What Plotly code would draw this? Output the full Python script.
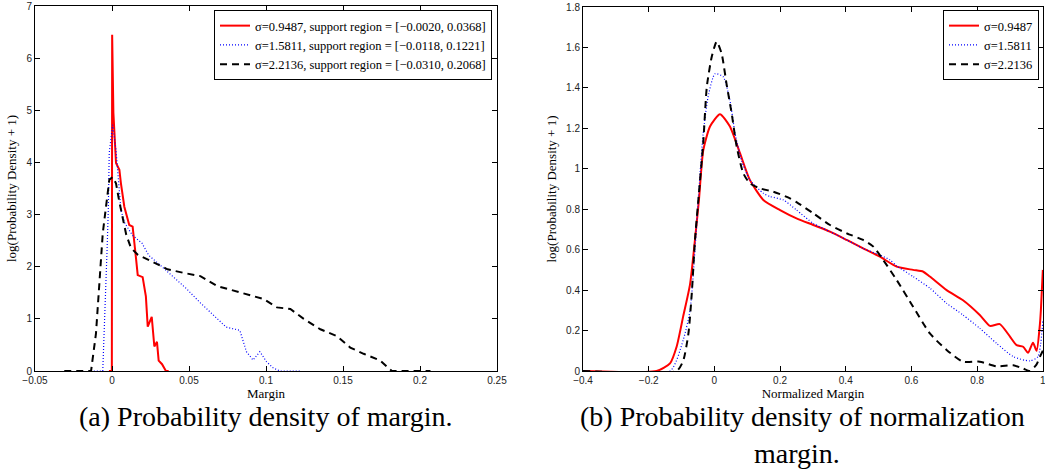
import plotly.graph_objects as go

# ---------------- data: (a) margin ----------------
a_red_x = [-0.002, -0.0001, 0.0001, 0.0009, 0.0026, 0.0048, 0.0058, 0.008, 0.0112, 0.0134, 0.0156,
           0.0167, 0.0199, 0.022, 0.0232, 0.0258, 0.0275, 0.0292, 0.0303, 0.0325, 0.035, 0.0368]
a_red_y = [0, 0, 6.45, 4.95, 3.99, 3.86, 3.6, 3.15, 2.8, 2.77, 2.16,
           1.84, 1.8, 1.43, 0.85, 1.04, 0.47, 0.56, 0.2, 0.13, 0, 0]

a_blue_x = [-0.0118, -0.006, -0.0032, -0.0024, -0.0018, 0.0004, 0.0026, 0.0037, 0.0058, 0.0084,
            0.0134, 0.0195, 0.0238, 0.0309, 0.0396, 0.0483, 0.0569, 0.0656, 0.0742, 0.0786, 0.083,
            0.0873, 0.0916, 0.096, 0.1003, 0.1046, 0.109, 0.1221]
a_blue_y = [0, 0, 2.32, 3.09, 4.18, 4.72, 4.24, 3.77, 3.08, 2.83,
            2.6, 2.45, 2.22, 2.04, 1.81, 1.58, 1.32, 1.07, 0.84, 0.81, 0.78,
            0.37, 0.21, 0.37, 0.18, 0.06, 0, 0]

a_black_x = [-0.031, -0.0136, -0.0104, -0.0082, -0.006, -0.0039, -0.0017, 0.0004, 0.0026, 0.0048,
             0.007, 0.0092, 0.0123, 0.0167, 0.0253, 0.036, 0.0468, 0.0574, 0.0682, 0.079, 0.092,
             0.0985, 0.1071, 0.1158, 0.1245, 0.1353, 0.146, 0.1547, 0.1634, 0.1742, 0.1817, 0.2068]
a_black_y = [0, 0, 0.72, 1.68, 2.64, 3.15, 3.67, 3.72, 3.6, 3.24,
             2.94, 2.62, 2.36, 2.23, 2.11, 1.95, 1.88, 1.82, 1.63, 1.54, 1.44,
             1.38, 1.22, 1.19, 1.0, 0.8, 0.67, 0.45, 0.33, 0.2, 0, 0]

# ---------------- data: (b) normalized margin ----------------
b_red_x = [-0.4, -0.176, -0.135, -0.115, -0.095, -0.074, -0.059, -0.047, -0.034, -0.013, 0.017, 0.047,
           0.078, 0.108, 0.149, 0.2, 0.25, 0.301, 0.352, 0.403, 0.453, 0.504, 0.555, 0.605, 0.636,
           0.656, 0.707, 0.757, 0.808, 0.839, 0.869, 0.9, 0.92, 0.94, 0.955, 0.97, 0.981, 0.991,
           0.994, 1.0]
b_red_y = [0, 0, 0.038, 0.12, 0.27, 0.43, 0.65, 0.846, 1.09, 1.21, 1.27, 1.21,
           1.077, 0.945, 0.846, 0.796, 0.755, 0.722, 0.689, 0.648, 0.606, 0.565, 0.516, 0.5, 0.491,
           0.467, 0.4, 0.35, 0.277, 0.223, 0.232, 0.17, 0.128, 0.12, 0.09, 0.14, 0.1, 0.23,
           0.3, 0.5]

b_blue_x = [-0.4, -0.135, -0.095, -0.074, -0.059, -0.047, -0.034, -0.019, 0.002, 0.027, 0.047, 0.063,
            0.083, 0.108, 0.149, 0.169, 0.21, 0.25, 0.301, 0.352, 0.403, 0.453, 0.504, 0.534, 0.555,
            0.605, 0.656, 0.707, 0.757, 0.808, 0.859, 0.91, 0.96, 0.985, 1.0]
b_blue_y = [0, 0, 0.153, 0.3, 0.6, 0.9, 1.175, 1.357, 1.47, 1.455, 1.34, 1.175,
            1.04, 0.945, 0.879, 0.863, 0.846, 0.796, 0.73, 0.689, 0.648, 0.606, 0.573, 0.55, 0.52,
            0.467, 0.41, 0.335, 0.277, 0.211, 0.137, 0.071, 0.05, 0.07, 0.25]

b_black_x = [-0.4, -0.115, -0.095, -0.079, -0.069, -0.059, -0.047, -0.034, -0.023, -0.008, 0.007, 0.022,
             0.037, 0.053, 0.068, 0.088, 0.108, 0.139, 0.179, 0.23, 0.25, 0.301, 0.352, 0.403, 0.453,
             0.484, 0.514, 0.555, 0.605, 0.656, 0.707, 0.757, 0.808, 0.859, 0.91, 0.94, 0.96, 0.98,
             0.991, 1.0]
b_black_y = [0, 0, 0.05, 0.186, 0.38, 0.65, 0.88, 1.126, 1.406, 1.554, 1.629, 1.57,
             1.42, 1.27, 1.109, 0.978, 0.928, 0.903, 0.887, 0.854, 0.835, 0.78, 0.722, 0.681, 0.648,
             0.615, 0.549, 0.45, 0.318, 0.186, 0.104, 0.046, 0.046, 0.023, 0.028, 0.012, 0, 0.03,
             0.07, 0.1]

sigmas = ["0.9487", "1.5811", "2.2136"]
supports = ["[\u22120.0020, 0.0368]", "[\u22120.0118, 0.1221]", "[\u22120.0310, 0.2068]"]

captions = ["(a) Probability density of margin.",
            "(b) Probability density of normalization",
            "margin."]

W, H = 1045, 470
SERIF = "Liberation Serif"
SANS = "Liberation Sans"

styles = [dict(color="#ff0000", width=2, dash="solid"),
          dict(color="#0000ff", width=1.2, dash="1px,2px"),
          dict(color="#000000", width=2, dash="7px,5px")]

fig = go.Figure()
a_data = [(a_red_x, a_red_y), (a_blue_x, a_blue_y), (a_black_x, a_black_y)]
b_data = [(b_red_x, b_red_y), (b_blue_x, b_blue_y), (b_black_x, b_black_y)]
for i, (x, y) in enumerate(a_data):
    fig.add_trace(go.Scatter(x=x, y=y, mode="lines", line=styles[i],
                             name=f"\u03c3={sigmas[i]}, support region = {supports[i]}",
                             xaxis="x", yaxis="y", legend="legend"))
for i, (x, y) in enumerate(b_data):
    fig.add_trace(go.Scatter(x=x, y=y, mode="lines", line=dict(**styles[i], shape="spline", smoothing=0.6),
                             name=f"\u03c3={sigmas[i]}",
                             xaxis="x2", yaxis="y2", legend="legend2"))

def px(v):
    return v / W

def py(v):
    return (H - v) / H

axis_common = dict(showline=True, linecolor="black", linewidth=1, mirror="ticks",
                   ticks="inside", ticklen=5, tickcolor="black", showgrid=False, zeroline=False,
                   automargin=False, ticklabeloverflow="allow",
                   tickfont=dict(family=SANS, size=10, color="#222"))

title_font = dict(family=SERIF, size=13, color="black")
legend_font = dict(family=SERIF, size=12.5, color="black")

fig.update_layout(
    width=W, height=H, margin=dict(l=0, r=0, t=0, b=0, autoexpand=False),
    paper_bgcolor="white", plot_bgcolor="white",
    xaxis=dict(domain=[px(35), px(497)], range=[-0.05, 0.25], dtick=0.05, tick0=0, anchor="y",
               title=dict(text="Margin", font=title_font, standoff=1),
               **axis_common),
    yaxis=dict(domain=[py(371), py(6)], range=[0, 7], dtick=1, anchor="x",
               title=dict(text="log(Probability Density + 1)", font=title_font, standoff=6),
               **axis_common),
    xaxis2=dict(domain=[px(583), px(1043)], range=[-0.4, 1.0005], dtick=0.2, tick0=0, anchor="y2",
                title=dict(text="Normalized Margin", font=title_font, standoff=1),
                **axis_common),
    yaxis2=dict(domain=[py(371), py(7)], range=[0, 1.8], dtick=0.2, anchor="x2",
                title=dict(text="log(Probability Density + 1)", font=title_font, standoff=6),
                **axis_common),
    legend=dict(x=px(492), y=py(10), xanchor="right", yanchor="top", bgcolor="white",
                bordercolor="black", borderwidth=1, font=legend_font,
                tracegroupgap=0, itemwidth=30),
    legend2=dict(x=px(1039), y=py(10), xanchor="right", yanchor="top", bgcolor="white",
                 bordercolor="black", borderwidth=1, font=legend_font,
                 tracegroupgap=0, itemwidth=30),
    showlegend=True,
)

cap_font = dict(family=SERIF, size=28, color="black")
fig.add_annotation(text=captions[0], x=px(266), y=py(416.5), xref="paper", yref="paper",
                   xanchor="center", yanchor="middle", showarrow=False, font=cap_font)
fig.add_annotation(text=captions[1], x=px(802), y=py(416.5), xref="paper", yref="paper",
                   xanchor="center", yanchor="middle", showarrow=False, font=cap_font)
fig.add_annotation(text=captions[2], x=px(797), y=py(453), xref="paper", yref="paper",
                   xanchor="center", yanchor="middle", showarrow=False, font=cap_font)

fig.write_html("out.html", config={"displayModeBar": False},
               post_script="document.body.style.margin='0';")
